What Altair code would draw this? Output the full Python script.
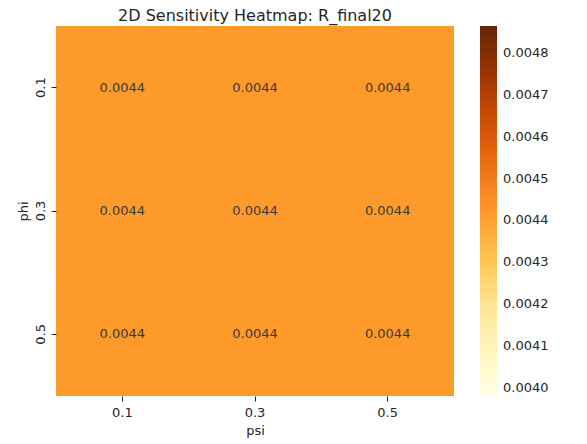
import altair as alt
import pandas as pd

psi_vals = ["0.1", "0.3", "0.5"]
phi_vals = ["0.1", "0.3", "0.5"]
# R_final20 values, rows = phi, cols = psi
values = [
    [0.00442, 0.00442, 0.00442],
    [0.00442, 0.00442, 0.00442],
    [0.00442, 0.00442, 0.00442],
]
color_domain = [0.003981, 0.004864]
ylorbr = ["#ffffe5", "#fff7bc", "#fee391", "#fec44f", "#fe9929",
          "#ec7014", "#cc4c02", "#993404", "#662506"]
legend_ticks = [0.0040, 0.0041, 0.0042, 0.0043, 0.0044, 0.0045, 0.0046, 0.0047, 0.0048]

rows = []
for i, phi in enumerate(phi_vals):
    for j, psi in enumerate(psi_vals):
        rows.append({"phi": phi, "psi": psi, "value": values[i][j]})
df = pd.DataFrame(rows)

FONT = "DejaVu Sans"
TXT = "#262626"

base = alt.Chart(df)

x_enc = alt.X("psi:O", sort=psi_vals, title="psi",
              scale=alt.Scale(paddingInner=0, paddingOuter=0),
              axis=alt.Axis(labelAngle=0, domain=False, grid=False, tickSize=5,
                            tickColor=TXT, labelColor=TXT, titleColor=TXT,
                            labelFont=FONT, titleFont=FONT, labelFontSize=13,
                            titleFontSize=13, titleFontWeight="normal",
                            labelPadding=5, titlePadding=5))
y_enc = alt.Y("phi:O", sort=phi_vals, title="phi",
              scale=alt.Scale(paddingInner=0, paddingOuter=0),
              axis=alt.Axis(labelAngle=270, domain=False, grid=False, tickSize=5,
                            tickColor=TXT, labelColor=TXT, titleColor=TXT,
                            labelFont=FONT, titleFont=FONT, labelFontSize=13,
                            titleFontSize=13, titleFontWeight="normal",
                            labelBaseline="bottom", labelAlign="center",
                            labelPadding=4, titlePadding=4))

cscale = alt.Scale(domain=color_domain, range=ylorbr, interpolate="rgb")

heat = base.mark_rect().encode(
    x=x_enc,
    y=y_enc,
    color=alt.Color("value:Q", scale=cscale,
                    legend=alt.Legend(title=None, orient="none", legendX=424, legendY=0,
                                      gradientLength=370, gradientThickness=17,
                                      values=legend_ticks, format=".4f",
                                      labelFont=FONT, labelFontSize=13, labelColor=TXT,
                                      labelOverlap=False, labelOffset=6,
                                      gradientStrokeWidth=0)),
)

text = base.mark_text(font=FONT, fontSize=13, color="#3a3a3a").encode(
    x=alt.X("psi:O", sort=psi_vals),
    y=alt.Y("phi:O", sort=phi_vals),
    text=alt.Text("value:Q", format=".4f"),
)

chart = (heat + text).properties(
    width=398,
    height=370,
    title=alt.Title("2D Sensitivity Heatmap: R_final20", font=FONT, fontSize=16,
                    fontWeight="normal", color=TXT, offset=2),
    autosize=alt.AutoSizeParams(type="none"),
    padding={"left": 48, "top": 18, "right": 125, "bottom": 48},
).configure_view(stroke=None, fill="#fd9a2b")

chart.save("out.html", embed_options={"renderer": "svg", "actions": False})
